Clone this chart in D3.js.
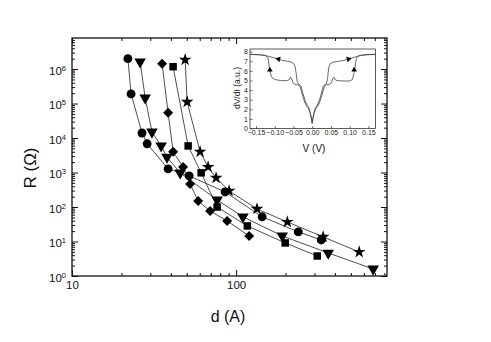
<!DOCTYPE html>
<html>
<head>
<meta charset="utf-8">
<script src="https://cdnjs.cloudflare.com/ajax/libs/d3/7.8.5/d3.min.js"></script>
<style>
  body { margin: 0; background: #fff; }
  svg { font-family: "Liberation Sans", Arial, Helvetica, sans-serif; }
</style>
</head>
<body>
<div id="chart"></div>
<script>
// main plot data: thickness d (A) vs resistance R (Ohm)
var circleD = [21.9, 22.9, 26.7, 28.7, 38.5, 51.7, 85.7, 144, 239, 330];
var circleR = [2.0e6, 1.9e5, 1.4e4, 6.8e3, 1.28e3, 800, 273, 52, 19, 11.1];
var triD = [26.0, 27.9, 30.7, 34.9, 37.9, 45.6, 76.6, 110, 191, 364, 684];
var triR = [1.63e6, 1.47e5, 1.5e4, 5.9e3, 2.8e3, 980, 161, 52, 14.5, 4.65, 1.6];
var diamondD = [35.4, 38.5, 41.3, 47.5, 52.4, 58.7, 69.4, 88.1, 120];
var diamondR = [1.42e6, 5.4e4, 4.0e3, 1.45e3, 468, 150, 77, 39.5, 14.5];
var squareD = [41.3, 51.0, 61.2, 76.6, 117, 199, 312];
var squareR = [1.17e6, 5.9e3, 980, 100, 28.3, 9.1, 3.8];
var starD = [48.9, 50.3, 60.3, 67.5, 75.5, 90.6, 134, 205, 339, 562];
var starR = [1.86e6, 1.12e5, 4.0e3, 1.45e3, 700, 293, 88, 36.9, 13.6, 4.97];

var xTicks = [10, 100];
var yTicks = [1, 10, 100, 1e3, 1e4, 1e5, 1e6];

// inset: dV/dI vs V
var upperV = [-0.166, -0.14, -0.125, -0.11, -0.095, -0.08, -0.065, -0.055, -0.049, -0.046, -0.043, -0.04, -0.037, -0.033, -0.03, -0.026, -0.022, -0.018, -0.013, -0.009, -0.005, -0.002, 0,
              0.002, 0.005, 0.009, 0.013, 0.018, 0.022, 0.026, 0.03, 0.034, 0.038, 0.041, 0.044, 0.048, 0.055, 0.07, 0.085, 0.1, 0.115, 0.13, 0.145, 0.169];
var upperG = [7.72, 7.68, 7.6, 7.45, 7.28, 7.1, 7.0, 6.9, 6.75, 6.5, 5.8, 4.9, 4.65, 4.55, 4.4, 3.8, 3.3, 2.8, 2.4, 2.2, 1.6, 1.1, 0.55,
              1.1, 1.7, 2.2, 2.4, 2.8, 3.3, 3.9, 4.45, 4.55, 4.65, 5.2, 6.3, 6.75, 6.9, 7.0, 7.1, 7.28, 7.45, 7.6, 7.68, 7.72];
var lowerV = [-0.166, -0.14, -0.125, -0.118, -0.115, -0.112, -0.107, -0.1, -0.085, -0.07, -0.062, -0.058, -0.055, -0.051, -0.046, -0.04, -0.035, -0.031, -0.027, -0.023, -0.019, -0.015, -0.011, -0.006, -0.003, 0,
              0.003, 0.006, 0.011, 0.015, 0.019, 0.023, 0.027, 0.031, 0.035, 0.04, 0.046, 0.051, 0.055, 0.058, 0.062, 0.07, 0.085, 0.1, 0.107, 0.112, 0.115, 0.118, 0.125, 0.14, 0.169];
var lowerG = [7.72, 7.68, 7.6, 7.35, 6.6, 5.8, 5.3, 5.1, 5.0, 4.97, 5.05, 5.35, 5.2, 4.75, 4.6, 4.55, 4.5, 4.2, 3.6, 3.1, 2.65, 2.35, 2.15, 1.7, 1.2, 0.55,
              1.2, 1.7, 2.15, 2.35, 2.65, 3.1, 3.6, 4.2, 4.5, 4.55, 4.6, 4.75, 5.2, 5.35, 5.05, 4.97, 4.95, 4.95, 5.1, 5.8, 6.6, 7.35, 7.6, 7.68, 7.72];
var arrowV = [-0.09, -0.113, 0.097, 0.112];
var arrowG = [7.24, 6.1, 7.24, 6.1];
var arrowRot = [-75, 0, 75, 0];
var insetXTicks = [-0.15, -0.10, -0.05, 0.00, 0.05, 0.10, 0.15];
var insetYTicks = [0, 1, 2, 3, 4, 5, 6, 7, 8];

var W = 491, H = 342;
var svg = d3.select("#chart").append("svg")
    .attr("width", W)
    .attr("height", H);

var x = d3.scaleLog().domain([10, 830]).range([72, 387]);
var y = d3.scaleLog().domain([1, Math.pow(10, 6.9)]).range([276, 38]);

function minors(lo, hi) {
    var out = [];
    for (var e = lo; e < hi; e++) {
        for (var k = 2; k <= 9; k++) out.push(k * Math.pow(10, e));
    }
    return out;
}
var xMinor = minors(1, 3).filter(function(v){ return v <= 830; });
var yMinor = minors(0, 7).filter(function(v){ return v <= Math.pow(10, 6.9); });

// frame
svg.append("rect")
    .attr("x", 72).attr("y", 38)
    .attr("width", 387 - 72).attr("height", 276 - 38)
    .attr("fill", "none")
    .attr("stroke", "#111")
    .attr("stroke-width", 1.3);

function styleAxis(g) {
    g.select(".domain").remove();
    g.selectAll(".tick line").attr("stroke", "#111").attr("stroke-width", 1);
}

// x axes
svg.append("g")
    .attr("transform", "translate(0,276)")
    .call(d3.axisBottom(x).tickValues(xTicks).tickSize(-6).tickPadding(5).tickFormat(d3.format("d")))
    .call(styleAxis)
    .selectAll("text").attr("font-size", "11.5px").attr("fill", "#111")
    .attr("font-family", "Liberation Sans, Arial, sans-serif");
svg.append("g")
    .attr("transform", "translate(0,276)")
    .call(d3.axisBottom(x).tickValues(xMinor).tickSize(-3).tickFormat(""))
    .call(styleAxis);
svg.append("g")
    .attr("transform", "translate(0,38)")
    .call(d3.axisTop(x).tickValues(xTicks).tickSize(-6).tickFormat(""))
    .call(styleAxis);
svg.append("g")
    .attr("transform", "translate(0,38)")
    .call(d3.axisTop(x).tickValues(xMinor).tickSize(-3).tickFormat(""))
    .call(styleAxis);

// y axes
var yl = svg.append("g")
    .attr("transform", "translate(72,0)")
    .call(d3.axisLeft(y).tickValues(yTicks).tickSize(-6).tickPadding(6).tickFormat(""))
    .call(styleAxis);
yl.selectAll(".tick text")
    .attr("font-size", "11.5px")
    .attr("fill", "#111")
    .attr("dy", "0.45em")
    .text("10")
    .append("tspan")
    .attr("dy", "-0.55em")
    .attr("font-size", "7.5px")
    .text(function(d){ return Math.round(Math.log10(d)); });
svg.append("g")
    .attr("transform", "translate(72,0)")
    .call(d3.axisLeft(y).tickValues(yMinor).tickSize(-3).tickFormat(""))
    .call(styleAxis);
svg.append("g")
    .attr("transform", "translate(387,0)")
    .call(d3.axisRight(y).tickValues(yTicks).tickSize(-6).tickFormat(""))
    .call(styleAxis);
svg.append("g")
    .attr("transform", "translate(387,0)")
    .call(d3.axisRight(y).tickValues(yMinor).tickSize(-3).tickFormat(""))
    .call(styleAxis);

// axis titles
svg.append("text")
    .attr("transform", "translate(36,168) rotate(-90)")
    .attr("text-anchor", "middle")
    .attr("font-size", "17px")
    .attr("fill", "#111")
    .text("R (\u03A9)");
svg.append("text")
    .attr("x", 228).attr("y", 322)
    .attr("text-anchor", "middle")
    .attr("font-size", "16px")
    .attr("fill", "#111")
    .text("d (A)");

// series
var series = [
    {d: circleD, r: circleR, sym: d3.symbolCircle, size: 62, rot: 0},
    {d: triD, r: triR, sym: d3.symbolTriangle, size: 58, rot: 180},
    {d: diamondD, r: diamondR, sym: d3.symbolSquare, size: 50, rot: 45},
    {d: squareD, r: squareR, sym: d3.symbolSquare, size: 56, rot: 0},
    {d: starD, r: starR, sym: d3.symbolStar, size: 50, rot: 0}
];

var line = d3.line()
    .x(function(p){ return x(p[0]); })
    .y(function(p){ return y(p[1]); });

series.forEach(function(s){
    var pts = s.d.map(function(v, i){ return [v, s.r[i]]; });
    svg.append("path")
        .datum(pts)
        .attr("d", line)
        .attr("fill", "none")
        .attr("stroke", "#222")
        .attr("stroke-width", 0.8);
});
series.forEach(function(s){
    var pts = s.d.map(function(v, i){ return [v, s.r[i]]; });
    svg.selectAll(null)
        .data(pts)
        .enter()
        .append("path")
        .attr("d", d3.symbol().type(s.sym).size(s.size))
        .attr("transform", function(p){
            return "translate(" + x(p[0]) + "," + y(p[1]) + ") rotate(" + s.rot + ")";
        })
        .attr("fill", "#000");
});

// inset
var ix = d3.scaleLinear().domain([-0.166, 0.169]).range([250, 375.5]);
var iy = d3.scaleLinear().domain([0, 8.28]).range([128.5, 49]);

svg.append("rect")
    .attr("x", 250).attr("y", 49)
    .attr("width", 125.5).attr("height", 79.5)
    .attr("fill", "#fff")
    .attr("stroke", "#333")
    .attr("stroke-width", 0.8);

var ixa = svg.append("g")
    .attr("transform", "translate(0,128.5)")
    .call(d3.axisBottom(ix).tickValues(insetXTicks).tickSize(-2.5).tickPadding(2).tickFormat(d3.format(".2f")));
ixa.select(".domain").remove();
ixa.selectAll(".tick line").attr("stroke", "#333").attr("stroke-width", 0.7);
ixa.selectAll("text").attr("font-size", "7px").attr("fill", "#222")
    .attr("font-family", "Liberation Sans, Arial, sans-serif");

var iya = svg.append("g")
    .attr("transform", "translate(250,0)")
    .call(d3.axisLeft(iy).tickValues(insetYTicks).tickSize(-2.5).tickPadding(2).tickFormat(d3.format("d")));
iya.select(".domain").remove();
iya.selectAll(".tick line").attr("stroke", "#333").attr("stroke-width", 0.7);
iya.selectAll("text").attr("font-size", "7px").attr("fill", "#222")
    .attr("font-family", "Liberation Sans, Arial, sans-serif");

svg.append("text")
    .attr("transform", "translate(237,88) rotate(-90)")
    .attr("text-anchor", "middle")
    .attr("dy", "0.35em")
    .attr("font-size", "8.5px")
    .attr("fill", "#222")
    .text("dV/dI (a.u.)");
svg.append("text")
    .attr("x", 314).attr("y", 152)
    .attr("text-anchor", "middle")
    .attr("font-size", "10px")
    .attr("fill", "#111")
    .text("V (V)");

var iline = d3.line()
    .x(function(p){ return ix(p[0]); })
    .y(function(p){ return iy(p[1]); });

[[upperV, upperG], [lowerV, lowerG]].forEach(function(c){
    svg.append("path")
        .datum(c[0].map(function(v, i){ return [v, c[1][i]]; }))
        .attr("d", iline)
        .attr("fill", "none")
        .attr("stroke", "#444")
        .attr("stroke-width", 0.8);
});

svg.selectAll(null)
    .data(arrowV)
    .enter()
    .append("path")
    .attr("d", d3.symbol().type(d3.symbolTriangle).size(14))
    .attr("transform", function(v, i){
        return "translate(" + ix(v) + "," + iy(arrowG[i]) + ") rotate(" + arrowRot[i] + ")";
    })
    .attr("fill", "#000");
</script>
</body>
</html>
